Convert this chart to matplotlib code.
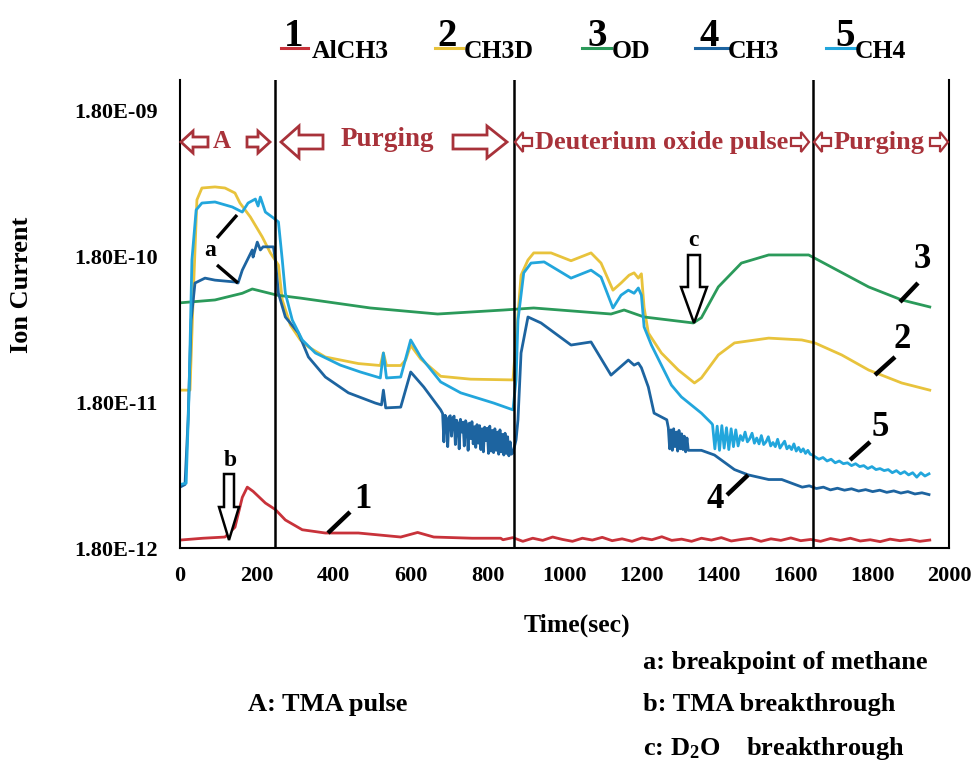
import numpy as np
import matplotlib.pyplot as plt
from matplotlib.patches import Polygon
from matplotlib.lines import Line2D

plt.rcParams['font.family'] = 'Liberation Serif'
plt.rcParams['font.weight'] = 'bold'
plt.rcParams['mathtext.fontset'] = 'custom'
plt.rcParams['mathtext.rm'] = 'Liberation Serif:bold'
plt.rcParams['mathtext.it'] = 'Liberation Serif:bold'

UNIT = 1e-12  # currents below are in units of 1e-12 A

# (time [s], ion current [1e-12 A])
alch3 = [(0, 2.04), (60, 2.1), (117, 2.14), (143, 2.5), (162, 4.0), (175, 4.7),
         (190, 4.4), (222, 3.66), (248, 3.3), (274, 2.8), (318, 2.4), (378, 2.28),
         (464, 2.28), (574, 2.14), (618, 2.3), (660, 2.14), (760, 2.1), (834, 2.1)]
alch3_tail = [2.05, 2.12, 2.0, 2.1, 2.03, 2.14, 2.06, 2.0, 2.1, 2.04, 2.13, 2.02,
              2.08, 2.0, 2.11, 2.05, 2.15, 2.03, 2.07, 2.0, 2.1, 2.04, 2.12, 2.01,
              2.06, 2.1, 2.0, 2.08, 2.03, 2.11, 2.02, 2.06, 2.0, 2.09, 2.03, 2.1,
              2.01, 2.05, 1.99, 2.07, 2.02, 2.06, 2.0, 2.04]

ch3d = [(0, 21.7), (26, 21.7), (34, 90), (44, 436), (57, 526), (91, 535), (117, 526),
        (143, 486), (156, 415), (183, 333), (214, 243), (235, 189), (256, 156),
        (266, 90), (287, 60.6), (313, 47.9), (334, 42.9), (378, 36.6), (464, 33),
        (521, 32), (529, 39), (537, 32), (574, 32), (587, 34.9), (600, 44),
        (626, 35.5), (678, 27), (756, 25.8), (866, 25.5), (876, 56), (887, 133),
        (905, 169), (920, 189), (965, 189), (1017, 167), (1069, 189), (1095, 161),
        (1126, 105), (1147, 117.5), (1168, 133), (1181, 138), (1192, 127),
        (1200, 136), (1207, 80), (1218, 53.5), (1252, 39), (1296, 29.8),
        (1338, 24.3), (1356, 26.3), (1400, 37.8), (1442, 45.7), (1531, 49.3),
        (1617, 47.9), (1651, 45.7), (1721, 37.8), (1791, 29.8), (1877, 24.3),
        (1950, 21.7)]

od = [(0, 86), (91, 90), (162, 100), (188, 107), (253, 97), (313, 92.7), (495, 79.3),
      (670, 72.1), (842, 76.8), (920, 79.3), (1121, 72.1), (1155, 76.8),
      (1207, 68.8), (1335, 62.6), (1356, 68), (1400, 110.5), (1460, 161),
      (1531, 183), (1635, 183), (1669, 164), (1791, 110.5), (1877, 90), (1950, 80.6)]

ch3_a = [(0, 4.7), (13, 4.9), (21, 13.6), (29, 65.6), (39, 117.5), (65, 127), (91, 123),
         (143, 119.5), (151, 117.5), (162, 144), (175, 169), (188, 198), (190, 177),
         (201, 224), (209, 198), (216, 208), (243, 208), (248, 169), (256, 100),
         (274, 68.8), (308, 53.5), (334, 36.6), (378, 26.7), (438, 20.8), (508, 17.7),
         (524, 17.2), (529, 21.7), (535, 16.4), (574, 16.6), (600, 28.9), (634, 22.8),
         (678, 15.9)]
ch3_noise1 = [15.0, 9.6, 14.6, 13.8, 8.9, 14.2, 14.5, 10.5, 13.9, 14.4, 9.2, 13.5,
              12.8, 8.6, 13.7, 11.2, 13.1, 9.0, 13.4, 12.6, 8.4, 12.9, 10.1, 13.2,
              9.3, 12.2, 8.8, 12.6, 9.4, 12.4, 8.5, 11.8, 8.2, 12.1, 9.8, 11.9, 8.0,
              12.3, 8.3, 11.5, 8.1, 11.8, 8.4, 11.2, 7.9, 11.6, 8.2, 10.8, 7.8, 11.0,
              8.0, 10.4, 7.7, 9.6, 7.9]
ch3_b = [(866, 8.1), (874, 9.9), (879, 13.6), (887, 39), (905, 68.8), (939, 62.6),
         (1017, 44.2), (1069, 46.4), (1121, 27.5), (1166, 34.9), (1181, 32.2),
         (1192, 33.3), (1200, 30.9), (1218, 22.8), (1233, 15.1), (1266, 13.6)]
ch3_noise2 = [12.0, 8.6, 11.6, 8.4, 11.8, 8.9, 11.2, 8.3, 11.5, 8.6, 10.9, 8.5,
              10.5, 8.2, 10.2, 8.4]
ch3_c = [(1338, 8.4), (1356, 8.4), (1390, 7.8), (1442, 6.2), (1478, 5.7), (1531, 5.3),
         (1565, 5.3)]
ch3_tail = [4.9, 4.7, 4.8, 4.6, 4.7, 4.5, 4.62, 4.48, 4.58, 4.42, 4.52, 4.38, 4.48,
            4.33, 4.43, 4.28, 4.38, 4.22, 4.3, 4.18]

ch4_a = [(0, 4.9), (16, 5.0), (23, 18.6), (31, 169), (42, 372), (57, 415), (91, 422),
         (136, 390), (162, 360), (177, 415), (196, 442), (203, 396), (209, 456),
         (222, 360), (243, 328), (256, 308), (266, 169), (274, 100), (292, 65.6),
         (318, 47.9), (352, 39), (417, 32.2), (469, 28.9), (521, 26.3), (529, 39),
         (537, 26.3), (574, 26.7), (600, 47.9), (626, 36.6), (678, 24.7), (730, 20.8),
         (816, 17.7), (866, 15.9), (874, 25.5), (879, 65.6), (894, 138), (913, 161),
         (947, 164), (1017, 127), (1069, 144), (1095, 129), (1126, 79.3), (1147, 97),
         (1166, 105), (1181, 100), (1192, 108.7), (1200, 97), (1207, 58.8),
         (1226, 44.2), (1252, 32.2), (1278, 23.5), (1304, 19.5), (1356, 15.1),
         (1382, 12.9)]
ch4_noise = [12.6, 8.6, 12.3, 8.4, 12.4, 8.7, 12.0, 8.5, 11.8, 8.9, 11.6, 9.0, 10.6,
             9.8, 11.2, 9.6, 10.1, 11.0, 9.4, 10.2, 9.3, 10.6, 9.2, 9.6, 10.4, 9.0,
             9.5, 8.9, 10.0, 8.7, 9.2, 9.7, 8.6, 9.0, 8.5, 9.3, 8.3, 8.8, 8.2, 8.6,
             8.0, 8.4, 7.9, 7.8]
ch4_tail = [7.6, 7.3, 7.5, 7.1, 7.3, 6.9, 7.1, 6.8, 6.9, 6.6, 6.8, 6.5, 6.6, 6.3,
            6.5, 6.2, 6.3, 6.1, 6.2, 5.9, 6.1, 5.8, 6.0, 5.7, 5.9, 5.5, 5.9, 5.6, 5.8]

phase_edges = [248, 868, 1645]
yticks = [1.8e-12, 1.8e-11, 1.8e-10, 1.8e-9]
ytick_labels = ['1.80E-12', '1.80E-11', '1.80E-10', '1.80E-09']
xticks = list(range(0, 2001, 200))

names = ['AlCH3', 'CH3D', 'OD', 'CH3', 'CH4']
colors = ['#c8323a', '#e8c33c', '#2b9a5a', '#1d64a0', '#22a6dc']
section_red = '#a8323a'


def build(*parts):
    t, v = [], []
    for p in parts:
        if isinstance(p, tuple):
            t0, t1, vals = p
            t += list(np.linspace(t0, t1, len(vals)))
            v += vals
        else:
            t += [a for a, b in p]
            v += [b for a, b in p]
    return np.array(t), np.array(v) * UNIT


series = [
    build(alch3, (840, 1950, alch3_tail)),
    build(ch3d),
    build(od),
    build(ch3_a, (683, 862, ch3_noise1), ch3_b, (1270, 1322, ch3_noise2), ch3_c,
          (1600, 1948, ch3_tail)),
    build(ch4_a, (1385, 1645, ch4_noise), (1651, 1948, ch4_tail)),
]

W, H = 973, 765
fig = plt.figure(figsize=(W / 100, H / 100), dpi=100)
ax = fig.add_axes([180 / W, 1 - 548 / H, (949 - 180) / W, (548 - 80) / H])

for (t, v), c in zip(series, colors):
    ax.plot(t, v, color=c, lw=2.0)

for xe in phase_edges:
    ax.axvline(xe, color='black', lw=1.8)

ax.set_yscale('log')
ax.set_xlim(0, 2000)
ax.set_ylim(1.8e-12, 1.8e-12 * 10 ** (468 / 146))
ax.set_yticks(yticks)
ax.set_yticklabels(ytick_labels)
ax.yaxis.set_minor_locator(plt.NullLocator())
ax.set_xticks(xticks)
ax.tick_params(length=0, labelsize=16)
ax.tick_params(axis='y', pad=16)
ax.tick_params(axis='x', pad=13)
for lab in ax.get_xticklabels() + ax.get_yticklabels():
    lab.set_fontweight('bold')
ax.spines['top'].set_visible(False)
for s in ['left', 'right', 'bottom']:
    ax.spines[s].set_linewidth(1.5)


def fx(px):
    return px / W


def fy(py):
    return 1 - py / H


fig.text(fx(22), fy(285), 'Ion Current', rotation=90, fontsize=19,
         ha='center', va='center')
fig.text(fx(577), fy(625), 'Time(sec)', fontsize=18.5, ha='center', va='center')


def hollow_arrow(tip, length, center, head_len, head_half, body_half,
                 direction, color, lw=2.0):
    # direction: 'left', 'right' or 'down' (pixel coords, y downward)
    if direction in ('left', 'right'):
        d = 1 if direction == 'left' else -1
        x0, yc = tip, center
        pts = [(x0, yc), (x0 + d * head_len, yc - head_half),
               (x0 + d * head_len, yc - body_half), (x0 + d * length, yc - body_half),
               (x0 + d * length, yc + body_half), (x0 + d * head_len, yc + body_half),
               (x0 + d * head_len, yc + head_half)]
    else:
        xc, y0 = center, tip
        pts = [(xc, y0), (xc - head_half, y0 - head_len),
               (xc - body_half, y0 - head_len), (xc - body_half, y0 - length),
               (xc + body_half, y0 - length), (xc + body_half, y0 - head_len),
               (xc + head_half, y0 - head_len)]
    poly = Polygon([(fx(a), fy(b)) for a, b in pts], closed=True,
                   transform=fig.transFigure, facecolor='white',
                   edgecolor=color, lw=lw, zorder=5)
    fig.add_artist(poly)


# phase labels along the top
row = 142
hollow_arrow(181, 27, row, 12, 11, 5, 'left', section_red)
fig.text(fx(222), fy(row), 'A', color=section_red, fontsize=18, ha='center', va='center')
hollow_arrow(270, 23, row, 12, 11, 5, 'right', section_red)
hollow_arrow(281, 42, row, 18, 16, 7, 'left', section_red)
fig.text(fx(387), fy(row - 3), 'Purging', color=section_red, fontsize=19.5,
         ha='center', va='center')
hollow_arrow(507, 54, row, 20, 16, 7, 'right', section_red)
hollow_arrow(515, 17, row, 8, 10, 4, 'left', section_red, lw=1.6)
fig.text(fx(662), fy(row), 'Deuterium oxide pulse', color=section_red, fontsize=19,
         ha='center', va='center')
hollow_arrow(809, 18, row, 8, 10, 4, 'right', section_red, lw=1.6)
hollow_arrow(814, 17, row, 8, 10, 4, 'left', section_red, lw=1.6)
fig.text(fx(879), fy(row), 'Purging', color=section_red, fontsize=19,
         ha='center', va='center')
hollow_arrow(948, 18, row, 8, 10, 4, 'right', section_red, lw=1.6)

# legend row
legend_x = [(294, 281, 308, 312), (447, 435, 463, 464), (597, 582, 611, 612),
            (709, 695, 729, 728), (845, 826, 856, 855)]
for i, (dx, l0, l1, tx) in enumerate(legend_x):
    fig.text(fx(dx), fy(46), str(i + 1), fontsize=28, ha='center', va='baseline')
    fig.add_artist(Line2D([fx(l0), fx(l1)], [fy(48), fy(48)], color=colors[i],
                          lw=2.2, transform=fig.transFigure))
    fig.text(fx(tx), fy(51), names[i], fontsize=18.5, ha='left', va='center')


def leader(x0, y0, x1, y1, lw=3.2):
    fig.add_artist(Line2D([fx(x0), fx(x1)], [fy(y0), fy(y1)], color='black',
                          lw=lw, solid_capstyle='butt', transform=fig.transFigure))


# curve labels and markers
fig.text(fx(210), fy(250), 'a', fontsize=17, ha='center', va='center')
leader(217, 238, 237, 215, lw=2.4)
leader(217, 265, 238, 283, lw=2.4)

fig.text(fx(230), fy(461), 'b', fontsize=17, ha='center', va='center')
hollow_arrow(540, 66, 229, 33, 10, 5, 'down', 'black', lw=1.8)

fig.text(fx(693), fy(240), 'c', fontsize=17, ha='center', va='center')
hollow_arrow(323, 68, 694, 36, 13, 6, 'down', 'black', lw=1.8)

num_labels = [('1', 363, 500, (328, 533, 350, 512)),
              ('2', 902, 340, (875, 375, 895, 357)),
              ('3', 922, 260, (900, 302, 918, 283)),
              ('4', 715, 500, (727, 495, 748, 475)),
              ('5', 880, 428, (850, 460, 870, 442))]
for txt, x, y, seg in num_labels:
    fig.text(fx(x), fy(y), txt, fontsize=25, ha='center', va='center')
    leader(*seg)

# notes under the plot
fig.text(fx(248), fy(705), 'A: TMA pulse', fontsize=19, ha='left', va='center')
fig.text(fx(643), fy(663), 'a: breakpoint of methane', fontsize=19, ha='left', va='center')
fig.text(fx(643), fy(705), 'b: TMA breakthrough', fontsize=19, ha='left', va='center')
fig.text(fx(643), fy(748), r'c: D$_{2}$O    breakthrough', fontsize=19,
         ha='left', va='center')

fig.savefig('out.png', dpi=100)
